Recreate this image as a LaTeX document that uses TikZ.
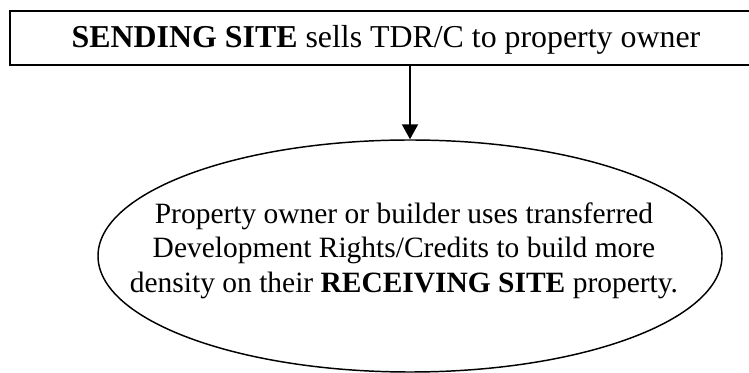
\documentclass[tikz,border=0pt]{standalone}
\usepackage{fontspec}
\setmainfont{Liberation Serif}
\usetikzlibrary{shapes.geometric,arrows.meta}
\begin{document}
\begin{tikzpicture}[x=0.75pt,y=-0.75pt,
  sendbox/.style={draw,line width=1.5pt,minimum width=564pt,minimum height=40.5pt,inner sep=0pt,text height=17pt,text depth=2pt,font=\fontsize{23.9}{27}\selectfont},
  recvshape/.style={draw,ellipse,line width=1.1pt,minimum width=468pt,minimum height=174pt,inner sep=0pt},
  recvtext/.style={align=center,inner sep=0pt,font=\fontsize{22.1}{25.9}\selectfont},
  flow/.style={line width=1.5pt,-{Triangle[length=11.25pt,width=12pt]}}]
\useasboundingbox (0,0) rectangle (749,373);
\clip (0,0) rectangle (749,373);
\node[sendbox] (send) at (386,38) {\textbf{SENDING SITE} sells TDR/C to property owner};
\node[recvshape] (recv) at (410,256) {};
\node[recvtext] (recvtxt) at (404,250.5) {Property owner or builder uses transferred\\Development Rights/Credits to build more\\density on their \textbf{RECEIVING SITE} property.};
\draw[flow] (recv.north |- send.south) -- (recv.north);
\end{tikzpicture}
\end{document}
